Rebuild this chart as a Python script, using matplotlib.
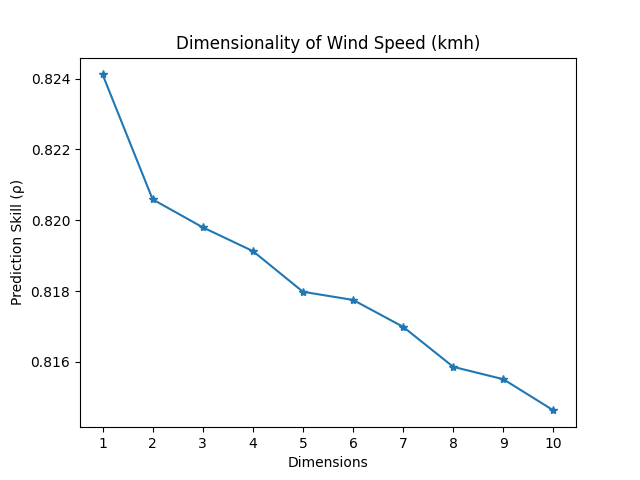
import matplotlib.pyplot as plt

dims = [1, 2, 3, 4, 5, 6, 7, 8, 9, 10]
skill = [0.82412, 0.82059, 0.81980, 0.81913, 0.81798, 0.81775, 0.81699, 0.81586, 0.81551, 0.81463]

plt.figure(figsize=(6.4, 4.8))
plt.plot(dims, skill, marker="*")
plt.xticks(dims)
plt.title("Dimensionality of Wind Speed (kmh)")
plt.xlabel("Dimensions")
plt.ylabel("Prediction Skill (ρ)")
plt.savefig("out.png", dpi=100)
